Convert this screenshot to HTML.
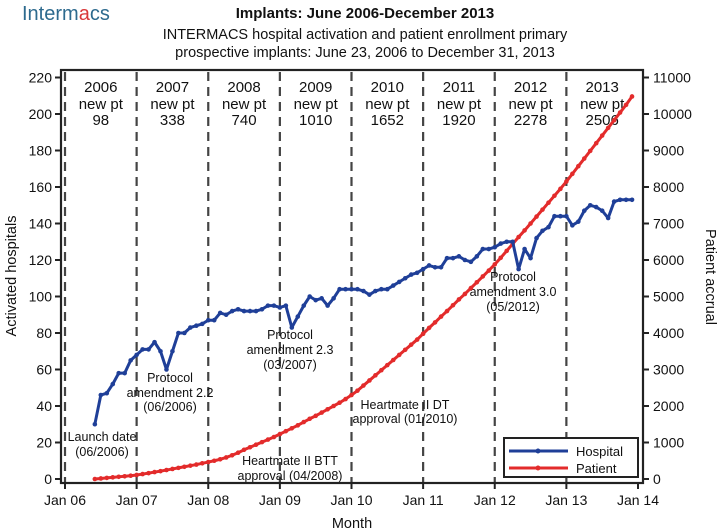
<!DOCTYPE html>
<html><head><meta charset="utf-8"><style>
html,body{margin:0;padding:0;background:#fff}
svg{display:block;font-family:"Liberation Sans",Arial,sans-serif}
</style></head><body>
<svg id="chart" width="720" height="532" viewBox="0 0 720 532">
  <text x="22" y="20" font-size="20" fill="#2d6a8e">Interm<tspan fill="#d9383a">a</tspan>cs</text>
  <text x="365" y="18" font-size="15" font-weight="bold" text-anchor="middle" fill="#111">Implants: June 2006-December 2013</text>
  <text x="365" y="39" font-size="14.5" text-anchor="middle" fill="#111">INTERMACS hospital activation and patient enrollment primary</text>
  <text x="365" y="57" font-size="14.5" text-anchor="middle" fill="#111">prospective implants: June 23, 2006 to December 31, 2013</text>
  <g id="grid"></g>
  <g id="annot"></g>
  <g id="series"></g>
  <g id="axes"></g>
</svg>
<script>
const yearCats = ["2006","2007","2008","2009","2010","2011","2012","2013"];
const newPt = [98,338,740,1010,1652,1920,2278,2506];
const xTickLabels = ["Jan 06","Jan 07","Jan 08","Jan 09","Jan 10","Jan 11","Jan 12","Jan 13","Jan 14"];
const leftTicks = [0,20,40,60,80,100,120,140,160,180,200,220];
const rightTicks = [0,1000,2000,3000,4000,5000,6000,7000,8000,9000,10000,11000];
const hospital = [30,46,47,52,58,58,65,
68,71,71,75,70,60,70,80,80,83,84,85,
87,87,91,90,92,93,92,92,92,93,95,95,
94,95,83,89,95,100,98,99,95,99,104,104,
104,104,103,101,103,104,104,106,108,110,112,113,
115,117,116,116,121,121,122,120,119,122,126,126,
127,129,130,130,115,126,121,132,136,138,144,144,
144,139,141,147,150,149,147,143,152,153,153,153];
const patient = [0,15,30,45,60,75,90,
110,135,160,190,215,245,275,305,335,365,395,430,
465,500,540,590,650,720,800,870,940,1010,1080,1150,
1230,1310,1390,1470,1560,1650,1730,1820,1910,2000,2090,2190,
2300,2420,2560,2700,2840,2980,3120,3260,3400,3540,3680,3820,
3980,4140,4290,4450,4600,4760,4920,5070,5230,5390,5550,5710,
5880,6060,6250,6440,6630,6810,7000,7190,7380,7570,7760,7950,
8150,8360,8570,8780,8990,9200,9410,9620,9830,10040,10250,10480];
const startMonth = 5; // June 2006 (months since Jan 2006)

const NS="http://www.w3.org/2000/svg";
const X0=65, X1=638, FL=61, FR=643, FT=70, FB=483;
const xM = m => X0 + (X1-X0)*m/96;
const yL = v => 479 - (479-77.5)*v/220;
const yR = v => 479 - (479-77.5)*v/11000;
function mk(tag, attrs, parent, txt){const e=document.createElementNS(NS,tag);for(const k in attrs)e.setAttribute(k,attrs[k]);if(txt!==undefined)e.textContent=txt;parent.appendChild(e);return e;}
const grid=document.getElementById('grid'), ann=document.getElementById('annot'), ser=document.getElementById('series'), ax=document.getElementById('axes');

for(let i=0;i<yearCats.length;i++){
  const x=xM(i*12);
  const l=mk('line',{x1:x,x2:x,y1:FT+2,y2:FB,stroke:'#444','stroke-width':2.2,'stroke-dasharray':'9,6'},grid);
  
  
  const cx=xM(i*12+6);
  const g=mk('g',{},grid);
  
  
  mk('text',{x:cx,y:92,'font-size':15,'text-anchor':'middle',fill:'#111'},g,yearCats[i]);
  mk('text',{x:cx,y:109,'font-size':15,'text-anchor':'middle',fill:'#111'},g,'new pt');
  mk('text',{x:cx,y:125,'font-size':15,'text-anchor':'middle',fill:'#111'},g,String(newPt[i]));
}

const notes=[
 {n:'launch-date-note',x:102,y:[441,456],t:['Launch date','(06/2006)']},
 {n:'protocol-2-2-note',x:170,y:[382,397,411],t:['Protocol','amendment 2.2','(06/2006)']},
 {n:'protocol-2-3-note',x:290,y:[339,354,369],t:['Protocol','amendment 2.3','(03/2007)']},
 {n:'heartmate-btt-note',x:290,y:[465,480],t:['Heartmate II BTT','approval (04/2008)']},
 {n:'heartmate-dt-note',x:405,y:[409,423],t:['Heartmate II DT','approval (01/2010)']},
 {n:'protocol-3-0-note',x:513,y:[281,296,311],t:['Protocol','amendment 3.0','(05/2012)']}
];
notes.forEach(o=>{const g=mk('g',{},ann);
  
  
  o.t.forEach((s,i)=>mk('text',{x:o.x,y:o.y[i],'font-size':12.5,'text-anchor':'middle',fill:'#111'},g,s));});

function drawSeries(vals, yf, color, name){
  const g=mk('g',{},ser);
  
  
  const pts=vals.map((v,i)=>xM(startMonth+i).toFixed(2)+','+yf(v).toFixed(2)).join(' ');
  const pl=mk('polyline',{points:pts,fill:'none',stroke:color,'stroke-width':3,'stroke-linejoin':'round'},g);
  
  
  vals.forEach((v,i)=>{const c=mk('circle',{cx:xM(startMonth+i),cy:yf(v),r:2.3,fill:color},g);
    
    });
}
drawSeries(patient,yR,'#e32b2b','patient');
drawSeries(hospital,yL,'#1f3f98','hospital');

const fr=mk('rect',{x:FL,y:FT,width:FR-FL,height:FB-FT,fill:'none',stroke:'#222','stroke-width':2.2},ax);


xTickLabels.forEach((s,i)=>{const x=xM(i*12);
  mk('line',{x1:x,x2:x,y1:FB,y2:FB+6,stroke:'#222','stroke-width':2},ax);
  const t=mk('text',{x:x,y:505,'font-size':14,'text-anchor':'middle',fill:'#111'},ax,s);
  
  });
leftTicks.forEach(v=>{const y=yL(v);
  mk('line',{x1:FL-6,x2:FL,y1:y,y2:y,stroke:'#222','stroke-width':2},ax);
  const t=mk('text',{x:FL-9,y:y+5,'font-size':14,'text-anchor':'end',fill:'#111'},ax,String(v));
  
  });
rightTicks.forEach(v=>{const y=yR(v);
  mk('line',{x1:FR,x2:FR+6,y1:y,y2:y,stroke:'#222','stroke-width':2},ax);
  const t=mk('text',{x:FR+10,y:y+5,'font-size':14,'text-anchor':'start',fill:'#111'},ax,String(v));
  
  });
</script>
<svg style="position:absolute;left:0;top:0" width="720" height="532">
  <g font-family="Liberation Sans, Arial, sans-serif">
  <text x="352" y="528" font-size="14.5" text-anchor="middle" fill="#111">Month</text>
  <text transform="translate(16,276) rotate(-90)" font-size="14.5" text-anchor="middle" fill="#111">Activated hospitals</text>
  <text transform="translate(706,277) rotate(90)" font-size="14.5" text-anchor="middle" fill="#111">Patient accrual</text>
  <g>
    <rect x="504" y="438" width="134" height="39" fill="#fff" stroke="#222" stroke-width="2"/>
    <line x1="509" y1="451" x2="568" y2="451" stroke="#1f3f98" stroke-width="3"/>
    <circle cx="538" cy="451" r="2.5" fill="#1f3f98"/>
    <text x="576" y="456" font-size="13" fill="#111">Hospital</text>
    <line x1="509" y1="468" x2="568" y2="468" stroke="#e32b2b" stroke-width="3"/>
    <circle cx="538" cy="468" r="2.5" fill="#e32b2b"/>
    <text x="576" y="473" font-size="13" fill="#111">Patient</text>
  </g>
  </g>
</svg>
</body></html>
